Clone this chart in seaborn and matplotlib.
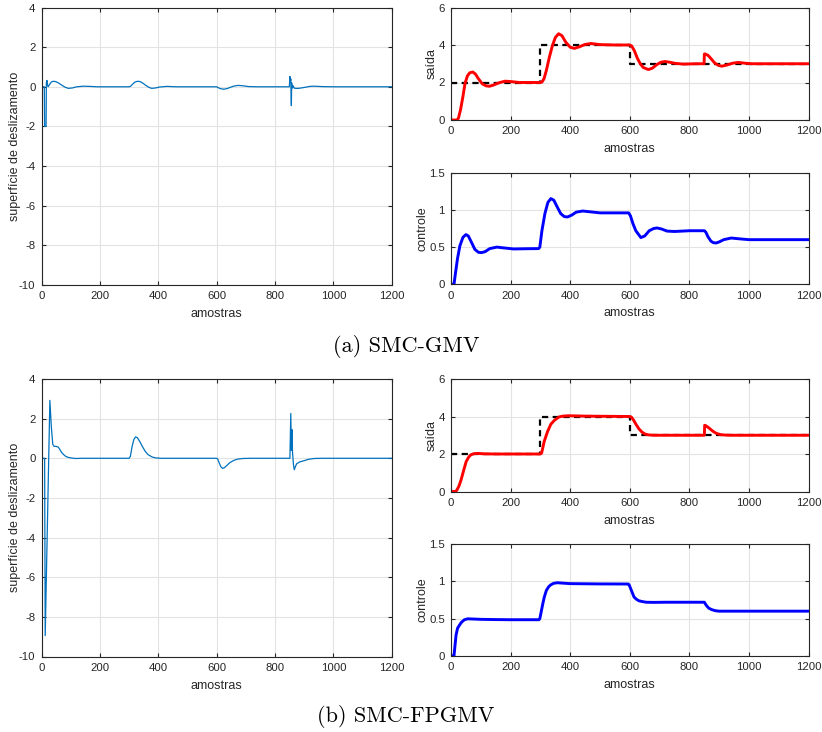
import matplotlib
matplotlib.use("Agg")
import matplotlib.pyplot as plt
import seaborn as sns

# ---------------- (a) SMC-GMV ----------------
# sliding surface
a_s_x = [0, 9, 10, 15, 16, 18, 20, 22, 27, 33, 40, 48, 58, 70, 80, 91, 105, 120, 143, 165, 190,
         300, 305, 312, 320, 329, 338, 348, 358, 368, 377, 390, 405, 430, 460, 600, 606, 614,
         625, 636, 648, 660, 674, 690, 710, 740, 849, 851, 852, 853, 854, 856, 857, 858, 860,
         862, 866, 872, 880, 890, 905, 920, 935, 960, 1000, 1200]
a_s_y = [0, 0, -2, -2, 0.2, 0.32, 0.1, 0.0, 0.12, 0.24, 0.28, 0.26, 0.19, 0.07, -0.02, -0.08,
         -0.06, 0.0, 0.03, 0.02, 0.0,
         0.0, 0.03, 0.14, 0.24, 0.28, 0.26, 0.17, 0.06, -0.03, -0.08, -0.06, -0.01, 0.02, 0.0,
         0.0, -0.05, -0.1, -0.12, -0.09, -0.02, 0.04, 0.07, 0.05, 0.01, 0.0, 0.0, 0.52, 0.45,
         0.3, 0.4, -0.95, 0.2, 0.05, -0.06, 0.05, -0.07, -0.08, -0.08, -0.06, -0.02, 0.02, 0.03,
         0.01, 0.0, 0.0]

# output and reference
a_y_x = [0, 20, 25, 32, 40, 47, 55, 63, 73, 82, 92, 105, 118, 129, 142, 160, 181, 200, 230, 300,
         305, 312, 320, 330, 340, 350, 361, 372, 385, 400, 414, 430, 450, 470, 500, 550, 600,
         606, 615, 625, 635, 645, 662, 675, 690, 704, 718, 734, 752, 780, 820, 849, 850, 853,
         862, 872, 884, 896, 908, 925, 945, 964, 985, 1010, 1050, 1200]
a_y_y = [0, 0, 0.1, 0.55, 1.25, 1.95, 2.35, 2.52, 2.56, 2.45, 2.2, 1.93, 1.82, 1.80, 1.86, 1.98,
         2.07, 2.05, 2.0, 2.0,
         2.02, 2.2, 2.65, 3.35, 3.95, 4.4, 4.6, 4.5, 4.15, 3.88, 3.82, 3.9, 4.03, 4.08, 4.02,
         4.0, 4.0,
         3.95, 3.7, 3.3, 3.0, 2.8, 2.69, 2.76, 2.95, 3.08, 3.12, 3.08, 3.02, 2.98, 3.0, 3.0,
         3.52, 3.52, 3.45, 3.28, 3.05, 2.92, 2.87, 2.93, 3.03, 3.07, 3.03, 3.0, 3.0, 3.0]

ref_x = [0, 300, 300, 600, 600, 1200]
ref_y = [2, 2, 4, 4, 3, 3]

# control signal
a_u_x = [0, 10, 15, 22, 30, 40, 50, 58, 68, 80, 92, 103, 115, 130, 154, 175, 210, 250, 294,
         298, 305, 315, 325, 335, 345, 355, 368, 380, 391, 405, 420, 442, 465, 500, 550, 596,
         602, 610, 620, 637, 650, 665, 680, 691, 705, 725, 750, 800, 850, 855, 862, 872, 880,
         889, 900, 915, 940, 965, 1000, 1200]
a_u_y = [0, 0, 0.15, 0.35, 0.52, 0.63, 0.668, 0.65, 0.57, 0.47, 0.43, 0.426, 0.44, 0.48, 0.50,
         0.49, 0.475, 0.478, 0.48,
         0.50, 0.72, 0.95, 1.1, 1.152, 1.13, 1.05, 0.95, 0.91, 0.905, 0.93, 0.97, 0.985, 0.975,
         0.96, 0.96, 0.96,
         0.92, 0.82, 0.72, 0.628, 0.65, 0.72, 0.75, 0.757, 0.745, 0.715, 0.71, 0.72, 0.72,
         0.70, 0.64, 0.58, 0.56, 0.555, 0.57, 0.60, 0.622, 0.612, 0.60, 0.60]

# ---------------- (b) SMC-FPGMV ----------------
b_s_x = [0, 10, 12, 28, 33, 38, 43, 50, 57, 62, 68, 74, 82, 90, 100, 115, 140,
         300, 304, 310, 316, 322, 328, 336, 345, 355, 365, 378, 390, 410,
         600, 604, 609, 614, 620, 626, 635, 645, 658, 672, 690, 720,
         851, 854, 856, 858, 860, 863, 866, 869, 874, 885, 900, 915, 935, 960, 1200]
b_s_y = [0, 0, -8.95, 2.92, 1.6, 0.7, 0.6, 0.6, 0.56, 0.45, 0.3, 0.2, 0.1, 0.05, 0.02, -0.01, 0,
         0, 0.1, 0.6, 0.95, 1.08, 1.04, 0.85, 0.6, 0.35, 0.18, 0.07, 0.02, 0,
         0, -0.05, -0.25, -0.42, -0.51, -0.48, -0.36, -0.22, -0.11, -0.04, -0.01, 0,
         0, 2.26, 0.4, 1.45, 0.3, -0.3, -0.58, -0.45, -0.28, -0.18, -0.12, -0.05, -0.01, 0, 0]

b_y_x = [0, 15, 20, 27, 34, 42, 51, 60, 67, 78, 90, 110, 150, 300, 304, 313, 324, 335, 347,
         363, 375, 395, 450, 600, 605, 612, 620, 630, 640, 650, 662, 680, 720, 850, 851, 856,
         866, 878, 890, 905, 920, 940, 1200]
b_y_y = [0, 0, 0.08, 0.3, 0.63, 1.1, 1.6, 1.85, 1.96, 2.02, 2.03, 2.01, 2.0, 2.0, 2.05, 2.69,
         3.2, 3.59, 3.8, 3.98, 4.02, 4.04, 4.02, 4.0, 3.97, 3.82, 3.6, 3.35, 3.18, 3.07, 3.02,
         3.0, 3.0, 3.0, 3.53, 3.5, 3.38, 3.22, 3.1, 3.03, 3.01, 3.0, 3.0]

b_u_x = [0, 10, 13, 17, 22, 28, 35, 45, 56, 70, 100, 150, 200, 295, 298, 303, 308, 313, 320,
         328, 335, 345, 357, 370, 400, 500, 595, 598, 603, 608, 614, 622, 630, 640, 655, 680,
         720, 850, 853, 858, 865, 875, 888, 900, 920, 1200]
b_u_y = [0, 0, 0.12, 0.28, 0.37, 0.41, 0.45, 0.485, 0.497, 0.495, 0.49, 0.487, 0.485, 0.485,
         0.50, 0.6, 0.7, 0.79, 0.88, 0.93, 0.955, 0.975, 0.982, 0.978, 0.97, 0.966, 0.965,
         0.95, 0.9, 0.85, 0.79, 0.76, 0.74, 0.73, 0.72, 0.718, 0.72, 0.72, 0.70, 0.67, 0.64,
         0.62, 0.605, 0.60, 0.60, 0.60]

x_ticks = [0, 200, 400, 600, 800, 1000, 1200]
captions = ["(a) SMC-GMV", "(b) SMC-FPGMV"]

# ---------------- styling ----------------
sns.set_style("whitegrid")
dark = "#262626"
plt.rcParams.update({
    "font.family": ["Liberation Sans", "DejaVu Sans"],
    "axes.unicode_minus": False,
    "axes.edgecolor": dark,
    "axes.linewidth": 0.8,
    "grid.color": "#e3e3e3",
    "grid.linewidth": 0.8,
    "xtick.color": dark,
    "ytick.color": dark,
    "xtick.direction": "in",
    "ytick.direction": "in",
    "xtick.major.size": 3,
    "ytick.major.size": 3,
    "xtick.major.width": 0.8,
    "ytick.major.width": 0.8,
    "xtick.top": True,
    "ytick.right": True,
    "xtick.bottom": True,
    "ytick.left": True,
    "axes.labelcolor": dark,
})

W, H = 822, 732
fig = plt.figure(figsize=(W / 100, H / 100), dpi=100)


def box(l, t, r, b):
    return fig.add_axes([l / W, 1 - b / H, (r - l) / W, (b - t) / H])


def style(ax, ylim, yticks, ylabel, ypad):
    ax.set_xlim(0, 1200)
    ax.set_ylim(*ylim)
    ax.set_xticks(x_ticks)
    ax.set_yticks(yticks)
    ax.set_yticklabels([f"{v:g}" for v in yticks])
    ax.tick_params(labelsize=8.2, pad=4.5)
    ax.set_xlabel("amostras", fontsize=9, labelpad=5)
    ax.set_ylabel(ylabel, fontsize=9, labelpad=ypad)
    for sp in ax.spines.values():
        sp.set_visible(True)
        sp.set_color(dark)
        sp.set_linewidth(0.8)
    ax.grid(True)
    ax.set_axisbelow(True)


def line(ax, x, y, **kw):
    sns.lineplot(x=x, y=y, ax=ax, estimator=None, sort=False, **kw)


rows = [
    (0, a_s_x, a_s_y, a_y_x, a_y_y, a_u_x, a_u_y, 347),
    (371.5, b_s_x, b_s_y, b_y_x, b_y_y, b_u_x, b_u_y, 717),
]

for i, (dy, sx, sy, yx, yy, ux, uy, cap_y) in enumerate(rows):
    ax_s = box(41.7, 7.5 + dy, 391.7, 285 + dy)
    line(ax_s, sx, sy, color="#0072BD", linewidth=0.9)
    style(ax_s, (-10, 4), [-10, -8, -6, -4, -2, 0, 2, 4], "superfície de deslizamento", -1.5)

    ax_y = box(451, 7.5 + dy, 808.7, 120 + dy)
    line(ax_y, ref_x, ref_y, color="black", linewidth=1.6, linestyle=(0, (2.8, 2)))
    line(ax_y, yx, yy, color="red", linewidth=2.1)
    style(ax_y, (0, 6), [0, 2, 4, 6], "saída", 0.5)

    ax_u = box(451, 172.7 + dy, 808.7, 284.3 + dy)
    line(ax_u, ux, uy, color="blue", linewidth=2.1)
    style(ax_u, (0, 1.5), [0, 0.5, 1, 1.5], "controle", 0.5)

    fig.text(406 / W, 1 - cap_y / H, captions[i], ha="center", va="center",
             family="cmr10", fontsize=16, color="black")

fig.savefig("out.png", dpi=100)
